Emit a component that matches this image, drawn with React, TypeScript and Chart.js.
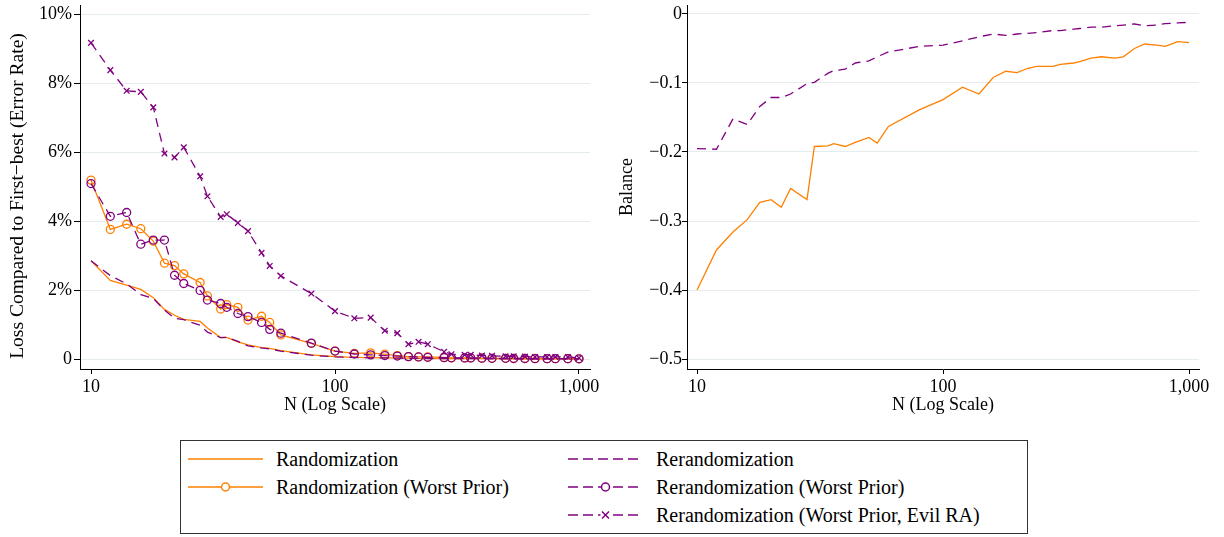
import React, { useEffect, useRef } from "react";
import { Chart, registerables } from "chart.js";

Chart.register(...registerables);

// ---------- data ----------
const N = [10, 12, 14, 16, 18, 20, 22, 24, 28, 30, 34, 36, 40, 44, 50, 54, 60, 80, 100, 120, 140, 160, 180, 200, 220, 240, 280, 300, 340, 360, 400, 440, 500, 540, 600, 660, 740, 800, 900, 1000];

// Left panel: loss compared to first-best (percent)
const randomizationLoss = [2.85, 2.28, 2.14, 2.02, 1.78, 1.44, 1.27, 1.15, 1.09, 0.90, 0.62, 0.63, 0.50, 0.41, 0.33, 0.31, 0.24, 0.12, 0.07, 0.05, 0.04, 0.035, 0.03, 0.025, 0.02, 0.02, 0.015, 0.015, 0.01, 0.01, 0.01, 0.01, 0.005, 0.005, 0.005, 0.005, 0.003, 0.003, 0.002, 0.002];
const rerandomizationLoss = [2.85, 2.42, 2.18, 1.87, 1.76, 1.42, 1.18, 1.14, 0.98, 0.78, 0.62, 0.63, 0.51, 0.38, 0.32, 0.29, 0.23, 0.11, 0.06, 0.045, 0.035, 0.03, 0.025, 0.02, 0.02, 0.015, 0.012, 0.012, 0.01, 0.01, 0.008, 0.008, 0.005, 0.005, 0.004, 0.004, 0.003, 0.003, 0.002, 0.002];
const randomizationWorstLoss = [5.19, 3.76, 3.91, 3.78, 3.42, 2.78, 2.71, 2.47, 2.22, 1.83, 1.45, 1.58, 1.50, 1.13, 1.24, 1.06, 0.70, 0.455, 0.23, 0.165, 0.18, 0.14, 0.10, 0.07, 0.06, 0.06, 0.05, 0.03, 0.03, 0.03, 0.025, 0.02, 0.02, 0.02, 0.015, 0.015, 0.01, 0.01, 0.01, 0.005];
const rerandomizationWorstLoss = [5.09, 4.14, 4.25, 3.33, 3.45, 3.45, 2.43, 2.19, 1.99, 1.71, 1.61, 1.50, 1.32, 1.23, 1.06, 0.86, 0.75, 0.46, 0.23, 0.145, 0.12, 0.10, 0.085, 0.07, 0.06, 0.05, 0.04, 0.035, 0.03, 0.03, 0.025, 0.02, 0.02, 0.015, 0.015, 0.01, 0.01, 0.01, 0.01, 0.005];
const evilRALoss = [9.17, 8.38, 7.78, 7.75, 7.30, 5.96, 5.85, 6.14, 5.30, 4.72, 4.12, 4.20, 3.95, 3.71, 3.08, 2.70, 2.41, 1.90, 1.39, 1.18, 1.20, 0.82, 0.75, 0.43, 0.50, 0.43, 0.21, 0.14, 0.12, 0.12, 0.10, 0.09, 0.08, 0.08, 0.07, 0.06, 0.06, 0.06, 0.06, 0.03];

// Right panel: balance
const randomizationBalance = [-0.400, -0.342, -0.316, -0.298, -0.273, -0.269, -0.280, -0.253, -0.269, -0.192, -0.191, -0.188, -0.192, -0.186, -0.179, -0.187, -0.163, -0.139, -0.124, -0.106, -0.116, -0.092, -0.083, -0.085, -0.079, -0.076, -0.076, -0.073, -0.071, -0.069, -0.064, -0.062, -0.064, -0.062, -0.050, -0.0435, -0.045, -0.047, -0.040, -0.0415];
const rerandomizationBalance = [-0.195, -0.196, -0.152, -0.160, -0.134, -0.121, -0.121, -0.116, -0.101, -0.099, -0.086, -0.082, -0.080, -0.071, -0.068, -0.062, -0.055, -0.047, -0.045, -0.039, -0.033, -0.029, -0.031, -0.029, -0.028, -0.027, -0.024, -0.024, -0.022, -0.021, -0.019, -0.019, -0.017, -0.016, -0.0145, -0.017, -0.016, -0.014, -0.013, -0.012];

const xTicks = [10, 100, 1000];
const lossTicks = [0, 2, 4, 6, 8, 10];
const balanceTicks = [0, -0.1, -0.2, -0.3, -0.4, -0.5];

const xTitle = "N (Log Scale)";
const lossTitle = "Loss Compared to First\u2212best (Error Rate)";
const balanceTitle = "Balance";

const labelRandomization = "Randomization";
const labelRandomizationWorst = "Randomization (Worst Prior)";
const labelRerandomization = "Rerandomization";
const labelRerandomizationWorst = "Rerandomization (Worst Prior)";
const labelEvil = "Rerandomization (Worst Prior, Evil RA)";

// ---------- styles ----------
const ORANGE = "#ff8000";
const PURPLE = "#800080";
const GRID = "#e4ecef";
const FONT = "'Liberation Serif', 'DejaVu Serif', 'Times New Roman', serif";
const DASH = [9, 6];
const LW = 1.3;

const pts = (arr: number[]) => N.map((n, i) => ({ x: n, y: arr[i] }));

// Draws a rotated y-axis title at a fixed spot (used where the title is off-centre in the original)
const yTitlePlugin = {
  id: "yTitleFixed",
  afterDraw(chart: any, _args: any, opts: any) {
    if (!opts || !opts.text) return;
    const { ctx } = chart;
    ctx.save();
    ctx.translate(opts.x, opts.y);
    ctx.rotate(-Math.PI / 2);
    ctx.font = `${opts.size}px ${FONT}`;
    ctx.fillStyle = "#000";
    ctx.textAlign = "center";
    ctx.textBaseline = "middle";
    ctx.fillText(opts.text, 0, 0);
    ctx.restore();
  },
};

function xScale(min: number, max: number) {
  return {
    type: "logarithmic",
    min,
    max,
    afterBuildTicks: (s: any) => {
      s.ticks = xTicks.map((v) => ({ value: v }));
    },
    ticks: {
      autoSkip: false,
      maxRotation: 0,
      minRotation: 0,
      padding: 2,
      color: "#000",
      font: { family: FONT, size: 18 },
      callback: (v: any) => Number(v).toLocaleString("en-US"),
    },
    grid: { drawOnChartArea: false, tickColor: "#000", tickLength: 5, tickWidth: 1 },
    border: { color: "#000", width: 1 },
    title: {
      display: true,
      text: xTitle,
      color: "#000",
      font: { family: FONT, size: 18 },
      padding: { top: 0, bottom: 4 },
    },
    afterFit: (s: any) => {
      s.height = 51;
      s.paddingLeft = 0;
      s.paddingRight = 0;
    },
  };
}

function yScale(opts: {
  min: number;
  max: number;
  ticks: number[];
  fmt: (v: number) => string;
  title: string;
  showTitle: boolean;
  titleSize: number;
  titlePad: number;
  width: number;
  tickLength: number;
  tickPad: number;
}) {
  return {
    type: "linear",
    min: opts.min,
    max: opts.max,
    afterBuildTicks: (s: any) => {
      s.ticks = opts.ticks.map((v) => ({ value: v }));
    },
    ticks: {
      padding: opts.tickPad,
      color: "#000",
      font: { family: FONT, size: 18 },
      callback: (v: any) => opts.fmt(Number(v)),
    },
    grid: { color: GRID, lineWidth: 1, tickColor: "#000", tickLength: opts.tickLength, tickWidth: 1 },
    border: { color: "#000", width: 1 },
    title: {
      display: opts.showTitle,
      text: opts.title,
      color: "#000",
      font: { family: FONT, size: opts.titleSize },
      padding: { top: opts.titlePad, bottom: 0 },
    },
    afterFit: (s: any) => {
      s.width = opts.width;
      s.paddingTop = 0;
      s.paddingBottom = 0;
    },
  };
}

const commonOptions = (padding: any, scales: any, yTitle: any) => ({
  responsive: false,
  maintainAspectRatio: false,
  animation: false,
  devicePixelRatio: 1,
  layout: { padding },
  plugins: {
    legend: { display: false },
    tooltip: { enabled: false },
    title: { display: false },
    yTitleFixed: yTitle,
  },
  elements: { line: { tension: 0 } },
  scales,
});

function LossChart() {
  const ref = useRef<HTMLCanvasElement>(null);
  useEffect(() => {
    const chart = new Chart(ref.current as HTMLCanvasElement, {
      type: "line",
      plugins: [yTitlePlugin],
      data: {
        datasets: [
          {
            label: labelEvil,
            data: pts(evilRALoss),
            borderColor: PURPLE,
            borderWidth: LW,
            borderDash: DASH,
            pointStyle: "crossRot",
            pointRadius: 4,
            pointBorderWidth: LW,
            pointBorderColor: PURPLE,
            pointBackgroundColor: PURPLE,
            order: 0,
          },
          {
            label: labelRerandomizationWorst,
            data: pts(rerandomizationWorstLoss),
            borderColor: PURPLE,
            borderWidth: LW,
            borderDash: DASH,
            pointStyle: "circle",
            pointRadius: 4,
            pointBorderWidth: LW,
            pointBorderColor: PURPLE,
            pointBackgroundColor: "rgba(0,0,0,0)",
            order: 1,
          },
          {
            label: labelRerandomization,
            data: pts(rerandomizationLoss),
            borderColor: PURPLE,
            borderWidth: LW,
            borderDash: DASH,
            pointRadius: 0,
            order: 2,
          },
          {
            label: labelRandomizationWorst,
            data: pts(randomizationWorstLoss),
            borderColor: ORANGE,
            borderWidth: LW,
            pointStyle: "circle",
            pointRadius: 4,
            pointBorderWidth: LW,
            pointBorderColor: ORANGE,
            pointBackgroundColor: "rgba(0,0,0,0)",
            order: 3,
          },
          {
            label: labelRandomization,
            data: pts(randomizationLoss),
            borderColor: ORANGE,
            borderWidth: LW,
            pointRadius: 0,
            order: 4,
          },
        ],
      },
      options: commonOptions(
        { top: 5, right: 20, left: 0, bottom: 0 },
        {
          x: xScale(9.0136, 1109.4),
          y: yScale({
            min: -0.2899,
            max: 10.261,
            ticks: lossTicks,
            fmt: (v) => (v === 0 ? "0" : `${v}%`),
            title: lossTitle,
            showTitle: false,
            titleSize: 19.5,
            titlePad: 6,
            width: 80,
            tickLength: 6,
            tickPad: 2,
          }),
        },
        { text: lossTitle, x: 18, y: 196, size: 19.5 }
      ) as any,
    } as any);
    return () => chart.destroy();
  }, []);
  return (
    <canvas
      ref={ref}
      width={610}
      height={420}
      style={{ position: "absolute", left: 0, top: 0, width: 610, height: 420 }}
    />
  );
}

function BalanceChart() {
  const ref = useRef<HTMLCanvasElement>(null);
  useEffect(() => {
    const chart = new Chart(ref.current as HTMLCanvasElement, {
      type: "line",
      data: {
        datasets: [
          {
            label: labelRerandomization,
            data: pts(rerandomizationBalance),
            borderColor: PURPLE,
            borderWidth: LW,
            borderDash: DASH,
            pointRadius: 0,
            order: 0,
          },
          {
            label: labelRandomization,
            data: pts(randomizationBalance),
            borderColor: ORANGE,
            borderWidth: LW,
            pointRadius: 0,
            order: 1,
          },
        ],
      },
      options: commonOptions(
        { top: 5, right: 25, left: 0, bottom: 0 },
        {
          x: xScale(9.106, 1098.1),
          y: yScale({
            min: -0.51449,
            max: 0.01304,
            ticks: balanceTicks,
            fmt: (v) => (v === 0 ? "0" : (v < 0 ? "\u2212" : "") + Math.abs(v).toString()),
            title: balanceTitle,
            showTitle: true,
            titleSize: 18,
            titlePad: 16.7,
            width: 87,
            tickLength: 5,
            tickPad: 0,
          }),
        },
        { text: "" }
      ) as any,
    } as any);
    return () => chart.destroy();
  }, []);
  return (
    <canvas
      ref={ref}
      width={624}
      height={420}
      style={{ position: "absolute", left: 600, top: 0, width: 624, height: 420 }}
    />
  );
}

type Marker = "none" | "circle" | "x";

function Sample({ color, dashed, marker, width }: { color: string; dashed: boolean; marker: Marker; width: number }) {
  const cy = 7;
  const cx = width / 2;
  return (
    <svg width={width} height={14} style={{ display: "block" }}>
      <line
        x1={0}
        y1={cy}
        x2={width}
        y2={cy}
        stroke={color}
        strokeWidth={1.5}
        strokeDasharray={dashed ? "10 5" : undefined}
      />
      {marker === "circle" && <circle cx={cx} cy={cy} r={4} fill="#fff" stroke={color} strokeWidth={1.5} />}
      {marker === "x" && (
        <g stroke={color} strokeWidth={1.5}>
          <rect x={cx - 5} y={cy - 5} width={10} height={10} fill="#fff" stroke="none" />
          <line x1={cx - 3.5} y1={cy - 3.5} x2={cx + 3.5} y2={cy + 3.5} />
          <line x1={cx - 3.5} y1={cy + 3.5} x2={cx + 3.5} y2={cy - 3.5} />
        </g>
      )}
    </svg>
  );
}

const legendRows: { label: string; color: string; dashed: boolean; marker: Marker; col: number; row: number }[] = [
  { label: labelRandomization, color: ORANGE, dashed: false, marker: "none", col: 0, row: 0 },
  { label: labelRandomizationWorst, color: ORANGE, dashed: false, marker: "circle", col: 0, row: 1 },
  { label: labelRerandomization, color: PURPLE, dashed: true, marker: "none", col: 1, row: 0 },
  { label: labelRerandomizationWorst, color: PURPLE, dashed: true, marker: "circle", col: 1, row: 1 },
  { label: labelEvil, color: PURPLE, dashed: true, marker: "x", col: 1, row: 2 },
];

function Legend() {
  const rowY = [459, 487, 515];
  const sampleX = [188, 568];
  const sampleW = [75, 75];
  const textX = [276, 656];
  return (
    <>
      <div
        style={{
          position: "absolute",
          left: 180,
          top: 440,
          width: 848,
          height: 94,
          border: "1px solid #333",
          boxSizing: "border-box",
          background: "#fff",
        }}
      />
      {legendRows.map((r, i) => (
        <React.Fragment key={i}>
          <div style={{ position: "absolute", left: sampleX[r.col], top: rowY[r.row] - 7 }}>
            <Sample color={r.color} dashed={r.dashed} marker={r.marker} width={sampleW[r.col]} />
          </div>
          <div
            style={{
              position: "absolute",
              left: textX[r.col],
              top: rowY[r.row] - 12,
              height: 24,
              lineHeight: "24px",
              fontFamily: FONT,
              fontSize: 20,
              color: "#000",
              whiteSpace: "nowrap",
            }}
          >
            {r.label}
          </div>
        </React.Fragment>
      ))}
    </>
  );
}

export default function App() {
  return (
    <div
      style={{
        position: "absolute",
        left: 0,
        top: 0,
        width: 1224,
        height: 537,
        background: "#fff",
        overflow: "hidden",
      }}
    >
      <LossChart />
      <BalanceChart />
      <Legend />
    </div>
  );
}
